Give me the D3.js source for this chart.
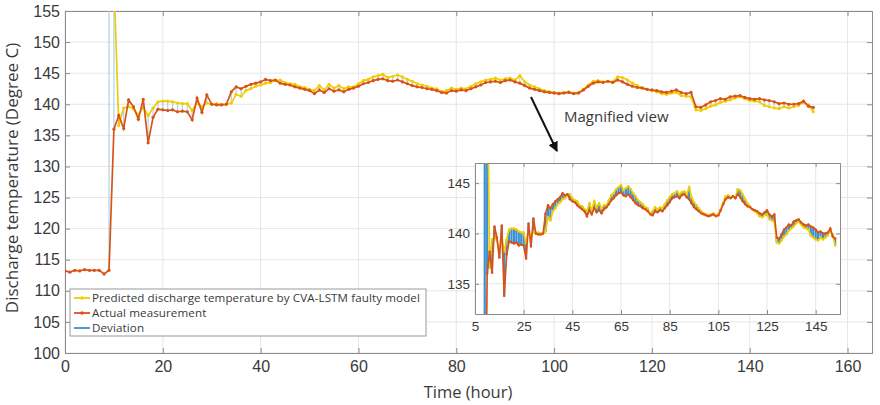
<!DOCTYPE html>
<html>
<head>
<meta charset="utf-8">
<script src="https://cdn.jsdelivr.net/npm/d3@7"></script>
<style>
  body { margin: 0; background: #fff; }
  svg { font-family: "Open Sans", sans-serif; }
</style>
</head>
<body>
<svg id="chart" width="880" height="405"></svg>
<script>
// hourly samples, t = 0 .. 153
const actual = [
  113.2, 113.0, 113.3, 113.2, 113.4, 113.3, 113.3, 113.3, 112.7, 113.3,
  136.0, 138.2, 136.1, 140.7, 139.6, 137.6, 140.8, 133.8, 137.9, 139.2,
  139.1, 139.0, 139.1, 138.8, 138.9, 138.8, 137.5, 141.0, 138.7, 141.5,
  140.0, 139.9, 139.9, 140.0, 142.0, 142.8, 142.5, 142.9, 143.2, 143.4,
  143.6, 144.0, 143.8, 143.9, 143.4, 143.2, 143.1, 142.8, 142.6, 142.4,
  142.2, 141.7, 142.3, 141.9, 142.5, 142.1, 142.3, 142.0, 142.4, 142.6,
  142.9, 143.3, 143.5, 143.8, 144.0, 144.1, 143.8, 143.7, 143.9, 143.6,
  143.3, 143.0, 142.8, 142.7, 142.5, 142.4, 142.2, 141.9, 141.8, 142.2,
  142.1, 142.3, 142.2, 142.5, 142.8, 143.1, 143.5, 143.6, 143.7, 143.5,
  143.8, 143.9, 143.6, 143.4, 143.0, 142.6, 142.4, 142.2, 142.0, 141.9,
  141.8, 141.7, 141.8, 141.9, 141.7, 141.8, 142.3, 142.9, 143.4, 143.6,
  143.5, 143.7, 143.5, 143.9, 143.6, 143.2, 142.9, 142.7, 142.6, 142.4,
  142.3, 142.2, 142.0, 141.9, 142.1, 142.3, 141.9, 141.7, 141.9, 139.6,
  139.5, 139.9, 140.4, 140.6, 140.9, 140.8, 141.2, 141.3, 141.4, 141.1,
  140.9, 140.8, 140.9, 140.7, 140.6, 140.4, 140.1, 140.2, 140.0, 140.0,
  140.1, 140.5, 139.7, 139.5
];
// model output starts at t = 9, first values overshoot above the axis
const predicted = [
  null, null, null, null, null, null, null, null, null, 400,
  160, 136.6, 139.4, 139.6, 139.3, 138.3, 139.5, 138.2, 139.4, 140.4,
  140.5, 140.5, 140.4, 140.2, 140.1, 140.1, 139.0, 140.2, 139.6, 140.2,
  140.0, 140.1, 140.0, 140.0, 140.2, 141.6, 141.3, 142.2, 142.5, 142.9,
  143.1, 143.4, 143.5, 143.8, 143.9, 143.5, 143.3, 143.2, 142.8, 142.7,
  142.4, 142.2, 143.0, 142.3, 143.2, 142.6, 143.0, 142.5, 142.8, 142.8,
  143.3, 143.8, 144.0, 144.4, 144.6, 144.8, 144.3, 144.5, 144.7, 144.4,
  144.0, 143.7, 143.3, 143.1, 142.9, 142.6, 142.5, 142.0, 142.2, 142.6,
  142.4, 142.6, 142.5, 142.9, 143.3, 143.6, 143.9, 144.0, 144.2, 143.9,
  144.1, 144.2, 143.9, 144.6, 143.6, 143.1, 142.8, 142.5, 142.2, 142.0,
  141.9, 141.8, 141.9, 142.0, 141.8, 141.9, 142.4, 143.1, 143.7, 143.8,
  143.6, 143.7, 143.6, 144.4, 144.3, 143.9, 143.4, 143.0, 142.7, 142.4,
  142.2, 142.0, 141.7, 141.6, 141.8, 141.9, 141.4, 141.3, 141.2, 139.1,
  139.0, 139.3, 139.7, 139.9, 140.3, 140.5, 140.7, 141.0, 141.2, 140.9,
  140.6, 140.5, 140.4, 139.8, 139.6, 139.4, 139.3, 139.6, 139.4, 139.6,
  139.8, 140.3, 139.9, 138.8
];
const xTicks = [0, 20, 40, 60, 80, 100, 120, 140, 160];
const yTicks = [100, 105, 110, 115, 120, 125, 130, 135, 140, 145, 150, 155];
const insetXTicks = [5, 25, 45, 65, 85, 105, 125, 145];
const insetYTicks = [135, 140, 145];
const legendLabels = [
  "Predicted discharge temperature by CVA-LSTM faulty model",
  "Actual measurement",
  "Deviation"
];

const colPred = "#f0cc00";
const colAct = "#d95319";
const colDev = "#3b8fd4";
const colDevLight = "#a9d3ef";
const textCol = "#3a3a3a";

const data = actual.map((a, i) => ({ t: i, a: a, p: predicted[i] }));

const svg = d3.select("#chart");

// ---------- main axes ----------
const x = d3.scaleLinear().domain([0, 165]).range([65, 872]);
const y = d3.scaleLinear().domain([100, 155]).range([353, 11]);

svg.append("defs").append("clipPath").attr("id", "mainClip")
  .append("rect").attr("x", 65).attr("y", 11).attr("width", 807).attr("height", 342);

const grid = svg.append("g").attr("stroke", "#e6e6e6").attr("stroke-width", 1);
grid.selectAll(".gx").data(xTicks).join("line")
  .attr("x1", d => x(d)).attr("x2", d => x(d)).attr("y1", 11).attr("y2", 353);
grid.selectAll(".gy").data(yTicks).join("line")
  .attr("x1", 65).attr("x2", 872).attr("y1", d => y(d)).attr("y2", d => y(d));

const xAxis = svg.append("g").attr("transform", "translate(0,353)")
  .call(d3.axisBottom(x).tickValues(xTicks).tickSize(-5).tickPadding(8));
const yAxis = svg.append("g").attr("transform", "translate(65,0)")
  .call(d3.axisLeft(y).tickValues(yTicks).tickSize(-5).tickPadding(5));
svg.append("g").attr("transform", "translate(0,11)")
  .call(d3.axisTop(x).tickValues(xTicks).tickSize(-5).tickFormat(""));
svg.append("g").attr("transform", "translate(872,0)")
  .call(d3.axisRight(y).tickValues(yTicks).tickSize(-5).tickFormat(""));
svg.selectAll(".domain, .tick line").attr("stroke", "#8c8c8c");
xAxis.selectAll("text").attr("font-size", 16).attr("fill", textCol);
yAxis.selectAll("text").attr("font-size", 16).attr("fill", textCol);

svg.append("text")
  .attr("transform", "translate(18,178) rotate(-90)")
  .attr("text-anchor", "middle")
  .attr("font-size", 17).attr("fill", textCol)
  .text("Discharge temperature (Degree C)");
svg.append("text")
  .attr("x", 468).attr("y", 398)
  .attr("text-anchor", "middle")
  .attr("font-size", 16.5).attr("fill", textCol)
  .text("Time (hour)");

function drawSeries(g, xs, ys, devColor, devWidth, markerR) {
  const withPred = data.filter(d => d.p !== null);
  g.append("g").selectAll("line").data(withPred).join("line")
    .attr("x1", d => xs(d.t)).attr("x2", d => xs(d.t))
    .attr("y1", d => ys(d.a)).attr("y2", d => ys(d.p))
    .attr("stroke", devColor).attr("stroke-width", devWidth);

  const linePred = d3.line().defined(d => d.p !== null).x(d => xs(d.t)).y(d => ys(d.p));
  const lineAct = d3.line().x(d => xs(d.t)).y(d => ys(d.a));

  g.append("path").datum(data).attr("d", linePred)
    .attr("fill", "none").attr("stroke", colPred).attr("stroke-width", 1.7);
  g.append("g").selectAll("circle").data(withPred).join("circle")
    .attr("cx", d => xs(d.t)).attr("cy", d => ys(d.p)).attr("r", markerR)
    .attr("fill", colPred);

  g.append("path").datum(data).attr("d", lineAct)
    .attr("fill", "none").attr("stroke", colAct).attr("stroke-width", 1.7);
  g.append("g").selectAll("circle").data(data).join("circle")
    .attr("cx", d => xs(d.t)).attr("cy", d => ys(d.a)).attr("r", markerR)
    .attr("fill", colAct);
}

const plot = svg.append("g").attr("clip-path", "url(#mainClip)");
drawSeries(plot, x, y, colDevLight, 1.2, 1.6);

// ---------- legend ----------
const lg = svg.append("g").attr("transform", "translate(70,289)");
lg.append("rect").attr("width", 356).attr("height", 47)
  .attr("fill", "#fff").attr("stroke", "#9a9a9a").attr("stroke-width", 1);
const lgColors = [colPred, colAct, colDev];
legendLabels.forEach((lab, i) => {
  const yy = 9 + i * 15;
  lg.append("line").attr("x1", 4).attr("x2", 20).attr("y1", yy).attr("y2", yy)
    .attr("stroke", lgColors[i]).attr("stroke-width", 1.8);
  if (i < 2) lg.append("circle").attr("cx", 12).attr("cy", yy).attr("r", 1.8).attr("fill", lgColors[i]);
  lg.append("text").attr("x", 22).attr("y", yy).attr("dy", "0.35em")
    .attr("font-size", 11.6).attr("letter-spacing", 0.1)
    .attr("fill", textCol).text(lab);
});

// ---------- magnified view annotation ----------
svg.append("defs").append("marker").attr("id", "arrowHead")
  .attr("viewBox", "0 0 10 10").attr("refX", 9).attr("refY", 5)
  .attr("markerWidth", 5).attr("markerHeight", 5).attr("orient", "auto")
  .append("path").attr("d", "M0,0 L10,5 L0,10 z").attr("fill", "#111");
svg.append("line").attr("x1", 531).attr("y1", 97).attr("x2", 557).attr("y2", 151)
  .attr("stroke", "#111").attr("stroke-width", 2).attr("marker-end", "url(#arrowHead)");
svg.append("text").attr("x", 564).attr("y", 122)
  .attr("font-size", 15).attr("fill", textCol).text("Magnified view");

// ---------- inset ----------
const ix = d3.scaleLinear().domain([5, 155]).range([475, 840]);
const iy = d3.scaleLinear().domain([132, 147]).range([314, 163]);

svg.append("rect").attr("x", 475).attr("y", 163).attr("width", 365).attr("height", 151)
  .attr("fill", "#fff");
svg.append("defs").append("clipPath").attr("id", "insetClip")
  .append("rect").attr("x", 475).attr("y", 163).attr("width", 365).attr("height", 151);

const igrid = svg.append("g").attr("stroke", "#e6e6e6");
igrid.selectAll(".gx").data(insetXTicks).join("line")
  .attr("x1", d => ix(d)).attr("x2", d => ix(d)).attr("y1", 163).attr("y2", 314);
igrid.selectAll(".gy").data(insetYTicks).join("line")
  .attr("x1", 475).attr("x2", 840).attr("y1", d => iy(d)).attr("y2", d => iy(d));

const inset = svg.append("g").attr("clip-path", "url(#insetClip)");
drawSeries(inset, ix, iy, colDev, 2.2, 1.2);

const ixAxis = svg.append("g").attr("transform", "translate(0,314)")
  .call(d3.axisBottom(ix).tickValues(insetXTicks).tickSize(-4).tickPadding(7));
const iyAxis = svg.append("g").attr("transform", "translate(475,0)")
  .call(d3.axisLeft(iy).tickValues(insetYTicks).tickSize(-4).tickPadding(5));
svg.append("g").attr("transform", "translate(0,163)")
  .call(d3.axisTop(ix).tickValues(insetXTicks).tickSize(-4).tickFormat(""));
svg.append("g").attr("transform", "translate(840,0)")
  .call(d3.axisRight(iy).tickValues(insetYTicks).tickSize(-4).tickFormat(""));
svg.selectAll(".domain, .tick line").attr("stroke", "#8c8c8c");
ixAxis.selectAll("text").attr("font-size", 13.5).attr("fill", textCol);
iyAxis.selectAll("text").attr("font-size", 13.5).attr("fill", textCol);
</script>
</body>
</html>
